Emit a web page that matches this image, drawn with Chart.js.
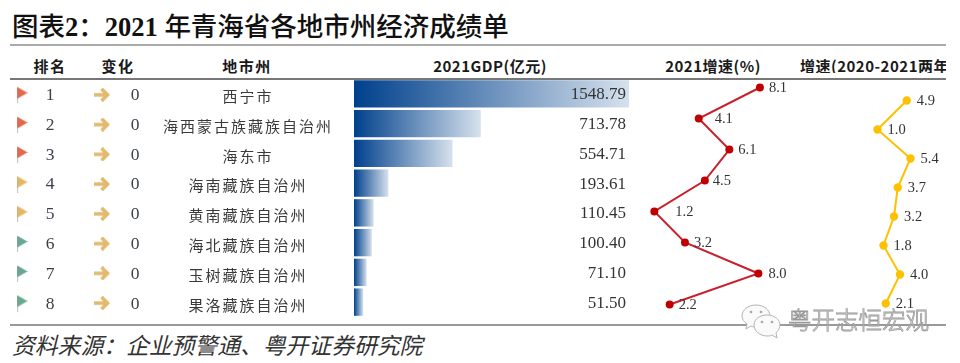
<!DOCTYPE html>
<html lang="zh">
<head>
<meta charset="utf-8">
<script src="https://cdn.jsdelivr.net/npm/chart.js@4/dist/chart.umd.js"></script>
<style>
  html, body { margin: 0; padding: 0; background: #fff; }
  #page { position: relative; width: 960px; height: 363px; overflow: hidden; font-family: "Liberation Serif", "Noto Sans CJK SC", serif; }
  #page canvas { position: absolute; }
  .txt { position: absolute; white-space: nowrap; line-height: 1; }
  .rule { position: absolute; left: 10px; width: 936px; }
  #title { left: 12px; top: 14px; font-size: 26.5px; color: #111; font-weight: 500; }
  #title b { font-weight: 700; }
  .head { top: 58px; font-family: "Noto Sans CJK SC", sans-serif; font-size: 15px; font-weight: 700; color: #1a1a1a; transform: translateX(-50%); letter-spacing: 1.5px; }
  .cell { font-size: 17.5px; color: #3a3f48; transform: translate(-50%, -50%); }
  .city { font-family: "Noto Sans CJK SC", sans-serif; font-size: 15px; letter-spacing: 2px; color: #3a3a3a; }
  #source { left: 12px; top: 336px; font-size: 22.8px; font-style: italic; color: #333; }
  #mark { left: 788px; top: 308px; font-family: "Noto Sans CJK SC", sans-serif; font-size: 23.5px; font-weight: 300; color: rgba(255,255,255,.6); -webkit-text-stroke: 0.8px #999; }
  #markIcon { position: absolute; left: 741px; top: 302px; }
</style>
</head>
<body>
<div id="page">
  <div class="txt" id="title">图表<b>2</b>：<b>2021</b> 年青海省各地市州经济成绩单</div>
  <div class="rule" style="top:44px;height:2px;background:#aaa"></div>
  <div class="rule" style="top:78px;height:2px;background:#777"></div>
  <div class="rule" style="top:324px;height:1.5px;background:#999"></div>
  <div class="txt head" style="left:50px">排名</div>
  <div class="txt head" style="left:118px">变化</div>
  <div class="txt head" style="left:247px">地市州</div>
  <div class="txt head" style="left:490px;letter-spacing:.5px">2021GDP(亿元)</div>
  <div class="txt head" style="left:713px;letter-spacing:.5px">2021增速(%)</div>
  <div class="txt head" style="left:800px;width:146px;overflow:hidden;transform:none;letter-spacing:.5px">增速(2020-2021两年平均,%)</div>
  <div class="txt" id="source">资料来源：企业预警通、粤开证券研究院</div>
  <canvas id="markers" width="160" height="238" style="left:-18px;top:80px"></canvas>
  <canvas id="gdpChart" width="280" height="238" style="left:354px;top:79px"></canvas>
  <canvas id="growthChart" width="150" height="248" style="left:636px;top:72px"></canvas>
  <canvas id="avgChart" width="80" height="232" style="left:870px;top:86px"></canvas>
  <svg id="markIcon" width="44" height="44" viewBox="0 0 44 44">
    <g fill="#fafafa" stroke="#b4b4b4" stroke-width="1">
      <path d="M15 3c8 0 14 5 14 11 0 6-6 11-14 11-2 0-3 0-5-1l-5 3 1-5c-3-2-5-5-5-8C1 8 7 3 15 3z"/>
      <path d="M26 13c7 0 13 4 13 10 0 3-2 6-4 8l1 5-5-3c-2 1-3 1-5 1-7 0-13-5-13-11s6-10 13-10z"/>
    </g>
    <g fill="#a8a8a8"><circle cx="10" cy="10" r="1.3"/><circle cx="20" cy="10" r="1.3"/><circle cx="21" cy="20" r="1.3"/><circle cx="31" cy="20" r="1.3"/></g>
  </svg>
  <div class="txt" id="mark">粤开志恒宏观</div>
</div>
<script>
const cities = ["西宁市", "海西蒙古族藏族自治州", "海东市", "海南藏族自治州", "黄南藏族自治州", "海北藏族自治州", "玉树藏族自治州", "果洛藏族自治州"];
const ranks = [1, 2, 3, 4, 5, 6, 7, 8];
const changes = [0, 0, 0, 0, 0, 0, 0, 0];
const flagTiers = ["red", "red", "red", "tan", "tan", "green", "green", "green"];
const gdp = [1548.79, 713.78, 554.71, 193.61, 110.45, 100.40, 71.10, 51.50];
const growth2021 = [8.1, 4.1, 6.1, 4.5, 1.2, 3.2, 8.0, 2.2];
const growthAvg = [4.9, 1.0, 5.4, 3.7, 3.2, 1.8, 4.0, 2.1];
const markerColumns = ["rank", "change"];

const serif = '"Liberation Serif", serif';
const flagColors = { red: "#e4694c", tan: "#e6b667", green: "#6aa78f" };

// 表格里的文字列
const page = document.getElementById("page");
function addCell(text, left, top, extra) {
  const el = document.createElement("div");
  el.className = "txt cell " + (extra || "");
  el.textContent = text;
  el.style.left = left + "px";
  el.style.top = top + "px";
  page.appendChild(el);
}
cities.forEach((city, i) => {
  const y = 95 + i * 29.8;
  addCell(ranks[i], 50, y);
  addCell(changes[i], 135, y);
  addCell(city, 248, y, "city");
});

function flagSprite(color) {
  const c = document.createElement("canvas");
  c.width = 11; c.height = 17;
  const g = c.getContext("2d");
  g.fillStyle = "#a0a0a0";
  g.fillRect(0, 1, 1.2, 16);
  g.fillStyle = color;
  g.beginPath();
  g.moveTo(0.6, 0.5); g.lineTo(11, 6.5); g.lineTo(0.6, 12.5);
  g.fill();
  return c;
}
function arrowSprite() {
  const c = document.createElement("canvas");
  c.width = 16; c.height = 14;
  const g = c.getContext("2d");
  g.strokeStyle = "#e2b96e";
  g.lineWidth = 3.6;
  g.beginPath();
  g.moveTo(0, 7); g.lineTo(12, 7);
  g.moveTo(7.5, 1); g.lineTo(13.5, 7); g.lineTo(7.5, 13);
  g.stroke();
  return c;
}
const flags = {};
Object.keys(flagColors).forEach((k) => { flags[k] = flagSprite(flagColors[k]); });
const arrow = arrowSprite();

const hiddenScales = (xMax) => ({
  x: { type: "linear", display: false, min: 0, max: xMax },
  y: { type: "category", display: false, offset: true },
});
const baseOptions = {
  indexAxis: "y",
  responsive: false,
  animation: false,
  layout: { padding: 0, autoPadding: false },
  plugins: { legend: { display: false }, tooltip: { enabled: false } },
};

// 折线/柱子旁边的数字
const valueLabels = {
  id: "valueLabels",
  afterDatasetsDraw(chart, args, opts) {
    const ctx = chart.ctx;
    const meta = chart.getDatasetMeta(0);
    ctx.save();
    ctx.font = opts.size + "px " + serif;
    ctx.fillStyle = "#333";
    ctx.textBaseline = "middle";
    ctx.textAlign = opts.right ? "right" : "left";
    chart.data.datasets[0].data.forEach((v, i) => {
      const x = opts.right ? opts.right : meta.data[i].x + (opts.gaps ? opts.gaps[i] : opts.gap);
      ctx.fillText(v.toFixed(opts.digits), x, meta.data[i].y + 1);
    });
    ctx.restore();
  },
};

// 排名旗帜和变化箭头
new Chart(document.getElementById("markers"), {
  type: "scatter",
  data: {
    datasets: [
      {
        data: cities.map((c) => ({ x: "rank", y: c })),
        pointStyle: (ctx) => flags[flagTiers[ctx.dataIndex]],
        clip: false,
      },
      {
        data: cities.map((c) => ({ x: "change", y: c })),
        pointStyle: arrow,
        clip: false,
      },
    ],
  },
  options: {
    responsive: false,
    animation: false,
    layout: { padding: 0, autoPadding: false },
    plugins: { legend: { display: false }, tooltip: { enabled: false } },
    scales: {
      x: { type: "category", labels: markerColumns, display: false, offset: true },
      y: { type: "category", labels: cities, display: false, offset: true },
    },
  },
});

// GDP 渐变柱
new Chart(document.getElementById("gdpChart"), {
  type: "bar",
  data: {
    labels: cities,
    datasets: [{
      data: gdp,
      barPercentage: 0.92,
      categoryPercentage: 1,
      backgroundColor(ctx) {
        const chart = ctx.chart;
        if (!chart.chartArea || ctx.dataIndex === undefined) return "#00408c";
        const scale = chart.scales.x;
        const x0 = scale.getPixelForValue(0);
        const x1 = scale.getPixelForValue(gdp[ctx.dataIndex]);
        if (!isFinite(x0) || !isFinite(x1)) return "#00408c";
        const grad = chart.ctx.createLinearGradient(x0, 0, x1, 0);
        grad.addColorStop(0, "#00408c");
        grad.addColorStop(1, "#d6e1ed");
        return grad;
      },
    }],
  },
  options: {
    ...baseOptions,
    scales: hiddenScales(1548.79 * 280 / 275),
    plugins: { ...baseOptions.plugins, valueLabels: { size: 17, digits: 2, right: 272 } },
  },
  plugins: [valueLabels],
});

// 2021 增速
new Chart(document.getElementById("growthChart"), {
  type: "line",
  data: {
    labels: cities,
    datasets: [{
      data: growth2021,
      borderColor: "#c8202c",
      borderWidth: 2,
      pointBackgroundColor: "#c00000",
      pointBorderColor: "#c00000",
      pointRadius: 3,
      tension: 0,
      clip: false,
    }],
  },
  options: {
    ...baseOptions,
    scales: hiddenScales(150 / 15.3),
    plugins: { ...baseOptions.plugins, valueLabels: { size: 14.5, digits: 1, gaps: [9, 16, 9, 8, 21, 9, 10, 9] } },
  },
  plugins: [valueLabels],
});

// 两年平均增速
new Chart(document.getElementById("avgChart"), {
  type: "line",
  data: {
    labels: cities,
    datasets: [{
      data: growthAvg,
      borderColor: "#ffc000",
      borderWidth: 2,
      pointBackgroundColor: "#ffc000",
      pointBorderColor: "#ffc000",
      pointRadius: 3.2,
      tension: 0,
      clip: false,
    }],
  },
  options: {
    ...baseOptions,
    scales: hiddenScales(80 / 7.5),
    plugins: { ...baseOptions.plugins, valueLabels: { size: 14.5, digits: 1, gap: 10 } },
  },
  plugins: [valueLabels],
});
</script>
</body>
</html>
